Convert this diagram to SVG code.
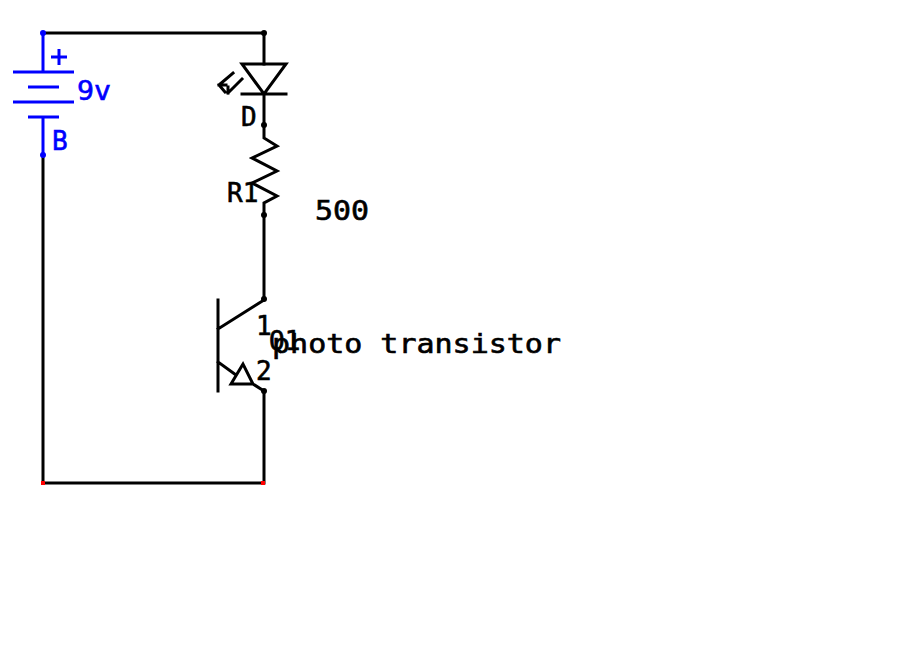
<svg xmlns="http://www.w3.org/2000/svg" width="914" height="662" viewBox="0 0 914 662">
<style>
.k{stroke:#000;stroke-width:3;fill:none;stroke-linecap:square;stroke-linejoin:miter}
.b{stroke:#00f;stroke-width:3;fill:none}
.dk{fill:#000}
.db{fill:#00f}
.r{fill:#f00}
text{font-family:"DejaVu Sans Mono","Liberation Mono",monospace;font-size:26px;stroke-width:.6px}
.tk{fill:#000;stroke:#000}
.tb{fill:#00f;stroke:#00f}
</style>
<rect width="914" height="662" fill="#fff"/>
<g id="connectors">
<path class="k" d="M43 33H264V64M264 94V125V138L277 146L252 158L277 171L252 183L277 196L264 203V299M264 391V483H43V155"/>
</g>
<g id="battery">
<path class="b" d="M43 33V72M13 72H74M28 87H59M13 102H74M28 117H59M43 117V155M51 57H67M59 49V65"/>
<circle class="db" cx="43" cy="33" r="3"/>
<circle class="db" cx="43" cy="155" r="3"/>
<text class="tb" x="77" y="100" textLength="34" lengthAdjust="spacingAndGlyphs">9v</text>
<text class="tb" x="52" y="150">B</text>
</g>
<g id="led">
<circle class="dk" cx="264" cy="33" r="3"/>
<path class="k" d="M242 64H286L264 94ZM242 94H286"/>
<path class="k" d="M233 73L219 85M219 85H226M219 85L225 92M242 79L228 93M228 93V87"/>
<circle class="dk" cx="264" cy="125" r="3"/>
<text class="tk" x="241" y="126">D</text>
</g>
<g id="resistor">
<circle class="dk" cx="264" cy="215" r="3"/>
<text class="tk" x="227" y="202">R1</text>
<text class="tk" x="315" y="220" textLength="54" lengthAdjust="spacingAndGlyphs">500</text>
</g>
<g id="transistor">
<path class="k" d="M218 300V391M218 329L264 300M218 362L236 375M253 384L264 391M243 364L231 384H253Z"/>
<circle class="dk" cx="264" cy="299" r="3"/>
<circle class="dk" cx="264" cy="391" r="3"/>
<text class="tk" x="256" y="335">1</text>
<text class="tk" x="256" y="380">2</text>
<text class="tk" x="269" y="350">Q1</text>
<text class="tk" x="272" y="353" textLength="289" lengthAdjust="spacingAndGlyphs">photo transistor</text>
</g>
<g id="ground-corners">
<rect class="r" x="41" y="481" width="4" height="4"/>
<rect class="r" x="261" y="481" width="4" height="4"/>
</g>
</svg>
